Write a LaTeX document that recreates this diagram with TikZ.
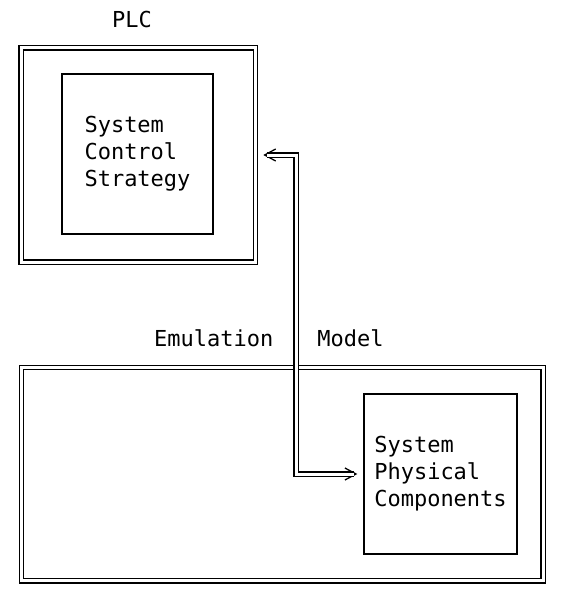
\documentclass[tikz,border=0pt]{standalone}
\usepackage{fontspec}
\setmonofont{DejaVu Sans Mono}
\usetikzlibrary{arrows.meta,positioning}

\tikzset{
    outerbox/.style={draw, double, double distance=3pt, line width=1.3pt,
        inner sep=0pt, outer sep=0pt},
    innerbox/.style={draw, line width=1.3pt, align=left, inner sep=0pt, outer sep=0pt},
    caption/.style={anchor=base, inner sep=0pt},
    barb/.tip={Straight Barb[length=11pt, width=12pt]},
    linktips/.style={line width=1.3pt, barb-barb, shorten <=7.8pt, shorten >=6.7pt},
    link/.style={double, double distance=3pt, line width=1.3pt, shorten <=11pt, shorten >=10pt},
}

\begin{document}
\begin{tikzpicture}[x=1pt, y=-1pt, font=\ttfamily\fontsize{22}{27}\selectfont]
            \useasboundingbox (0,0) rectangle (576,599);
            % PLC side
            \node[outerbox, minimum width=234.5pt, minimum height=214pt] (plc) at (138.25,155) {};
            \node[caption] (plclabel) at (132,27.7) {PLC};
            \node[innerbox, minimum width=151pt, minimum height=160pt] (strategy) at (137.5,154) {System\\Control\\Strategy};
            % emulation side
            \node[outerbox, minimum width=521.7pt, minimum height=213.2pt] (emulation) at (282.2,474.1) {};
            \node[caption] (emulationlabel) at (213.7,346.7) {Emulation};
            \node[caption] (modellabel) at (350.5,346.7) {Model};
            \node[innerbox, minimum width=153pt, minimum height=160pt] (physical) at (440.5,474) {System\\Physical\\Components};
            % connector: tips first, double line on top
            \coordinate (riser) at (296,300);
            \draw[linktips] (plc.east) -| (riser) |- (physical.west);
            \draw[link] (plc.east) -| (riser) |- (physical.west);
        \end{tikzpicture}
\end{document}
